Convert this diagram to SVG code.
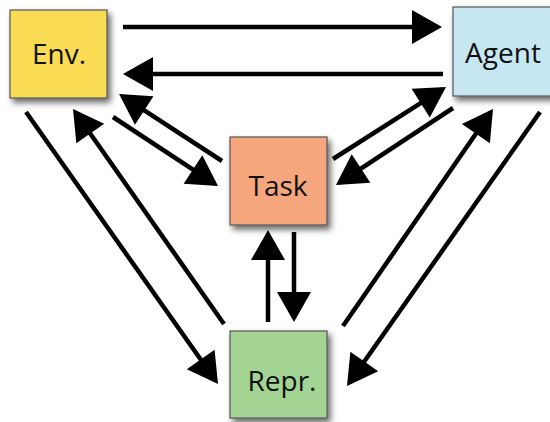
<svg xmlns="http://www.w3.org/2000/svg" width="550" height="422" viewBox="0 0 550 422">
<style>
.box{stroke:#555;stroke-width:1.2;filter:url(#sh)}
.lbl{font-family:"Open Sans","Liberation Sans",sans-serif;font-size:28px;fill:#111;text-anchor:middle}
.arr{stroke:#000;stroke-width:4.5;fill:none;marker-end:url(#ah)}
</style>
<defs>
<filter id="sh" x="-20%" y="-20%" width="150%" height="150%">
<feDropShadow dx="3" dy="4" stdDeviation="3" flood-color="#000" flood-opacity="0.6"/>
</filter>
<marker id="ah" markerUnits="userSpaceOnUse" markerWidth="31" markerHeight="34" refX="26" refY="17" orient="auto" overflow="visible">
<path d="M0,0 L30,17 L0,34 z" fill="#000"/>
</marker>
</defs>
<rect width="550" height="422" fill="#fff"/>
<g id="connectors">
<line class="arr" x1="123" y1="27" x2="438" y2="27"/>
<line class="arr" x1="443" y1="74" x2="127" y2="74"/>
<line class="arr" x1="113" y1="117" x2="214.7" y2="183.8"/>
<line class="arr" x1="222" y1="161" x2="122.4" y2="96.2"/>
<line class="arr" x1="333" y1="159" x2="442.6" y2="89.1"/>
<line class="arr" x1="453" y1="108" x2="339.3" y2="182.8"/>
<line class="arr" x1="26" y1="112" x2="215.7" y2="380.7"/>
<line class="arr" x1="224" y1="324" x2="75.3" y2="112.3"/>
<line class="arr" x1="343" y1="326" x2="490.7" y2="112.3"/>
<line class="arr" x1="540" y1="112" x2="349.3" y2="382.7"/>
<line class="arr" x1="268" y1="322" x2="268" y2="234"/>
<line class="arr" x1="294" y1="232" x2="294" y2="318"/>
</g>
<g id="env">
<rect class="box" x="10" y="10" width="97" height="88" fill="#f9dc52"/>
<text class="lbl" x="59" y="64">Env.</text>
</g>
<g id="agent">
<rect class="box" x="453" y="7" width="105" height="89" fill="#c6e6f1"/>
<text class="lbl" x="503" y="63">Agent</text>
</g>
<g id="task">
<rect class="box" x="230" y="137" width="97" height="88" fill="#f5a67b"/>
<text class="lbl" x="278" y="196">Task</text>
</g>
<g id="repr">
<rect class="box" x="230" y="331" width="97" height="87" fill="#a4d494"/>
<text class="lbl" x="282" y="391">Repr.</text>
</g>
</svg>
